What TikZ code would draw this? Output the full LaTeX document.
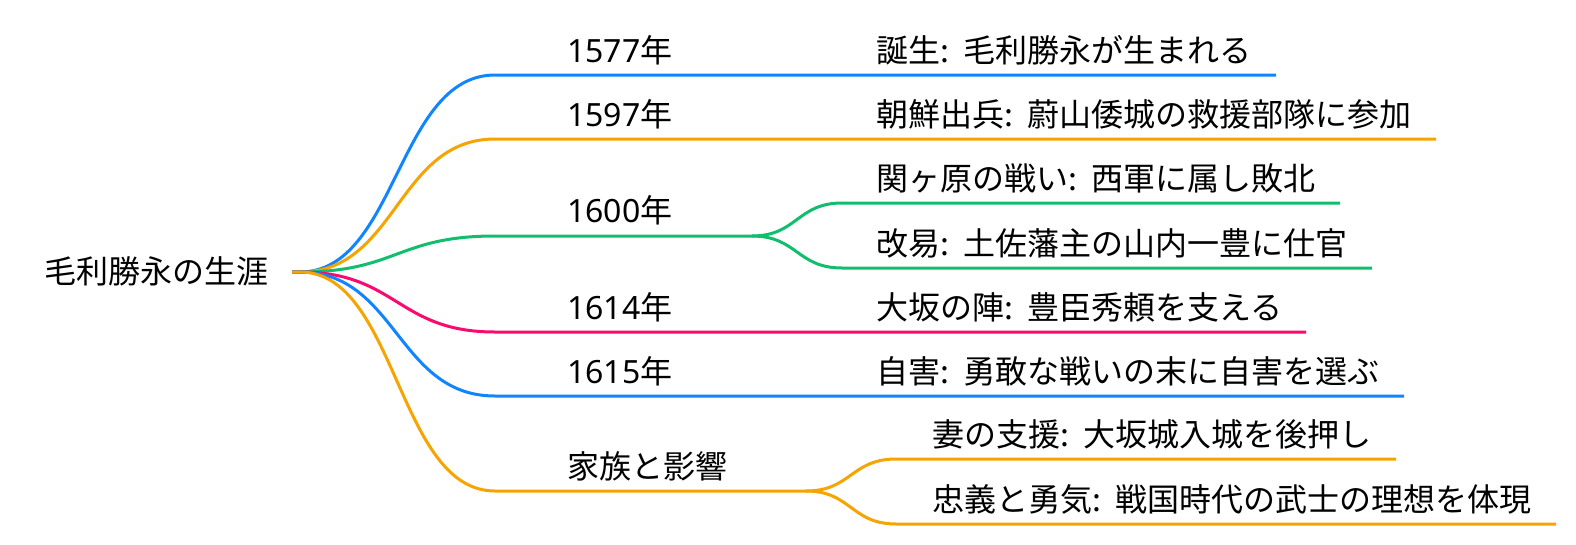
\documentclass[tikz,border=0pt]{standalone}
\usepackage{fontspec}
\setmainfont{Noto Sans CJK JP}
\newfontfamily\latf{Noto Sans}
\newcommand{\csep}{:\kern0.45em}
\newcommand{\yr}[1]{{\latf #1}年}
\definecolor{mblue}{RGB}{17,133,255}
\definecolor{morange}{RGB}{245,164,0}
\definecolor{mgreen}{RGB}{16,190,110}
\definecolor{mpink}{RGB}{250,10,110}
\begin{document}
\begin{tikzpicture}[x=1pt,y=-1pt,
  txt/.style={inner sep=0pt, anchor=base west, font=\fontsize{32}{38}\selectfont, text=black},
  link/.style={line width=3pt}]
\fill[white] (0,0) rectangle (1576,544);
% text nodes
\node[txt] (root) at (44,283) {毛利勝永の生涯};
\node[txt] (y1) at (567,62) {\yr{1577}};
\node[txt] (y2) at (567,126) {\yr{1597}};
\node[txt] (y3) at (567,222) {\yr{1600}};
\node[txt] (y4) at (567,319) {\yr{1614}};
\node[txt] (y5) at (567,383) {\yr{1615}};
\node[txt] (y6) at (567,478) {家族と影響};
\node[txt] (c1) at (876,62) {誕生\csep 毛利勝永が生まれる};
\node[txt] (c2) at (876,126) {朝鮮出兵\csep 蔚山倭城の救援部隊に参加};
\node[txt] (c3a) at (876,190) {関ヶ原の戦い\csep 西軍に属し敗北};
\node[txt] (c3b) at (876,255) {改易\csep 土佐藩主の山内一豊に仕官};
\node[txt] (c4) at (876,319) {大坂の陣\csep 豊臣秀頼を支える};
\node[txt] (c5) at (876,383) {自害\csep 勇敢な戦いの末に自害を選ぶ};
\node[txt] (c6a) at (932,446) {妻の支援\csep 大坂城入城を後押し};
\node[txt] (c6b) at (932,511) {忠義と勇気\csep 戦国時代の武士の理想を体現};
% coordinates
\coordinate (r) at (292,272);
\coordinate (r2) at (300,272);
\coordinate (mx) at (397,0);
\coordinate (mx3) at (797,0);
\coordinate (mx6) at (851,0);
\coordinate (y1L) at (495,75);
\coordinate (y2L) at (495,139);
\coordinate (y3L) at (495,236);
\coordinate (y4L) at (495,332);
\coordinate (y5L) at (495,396);
\coordinate (y6L) at (495,491);
\coordinate (y3R) at (752,236);
\coordinate (y6R) at (806,491);
\coordinate (c1R) at (1276,75);
\coordinate (c2R) at (1436,139);
\coordinate (c3aL) at (842,203);
\coordinate (c3aR) at (1340,203);
\coordinate (c3bL) at (842,268);
\coordinate (c3bR) at (1372,268);
\coordinate (c4R) at (1306,332);
\coordinate (c5R) at (1404,396);
\coordinate (c6aL) at (896,459);
\coordinate (c6aR) at (1396,459);
\coordinate (c6bL) at (896,524);
\coordinate (c6bR) at (1556,524);
% connectors
\draw[link,mblue] (r) -- (r2) .. controls (mx |- r2) and (mx |- y1L) .. (y1L) -- (c1R);
\draw[link,morange] (r) -- (r2) .. controls (mx |- r2) and (mx |- y2L) .. (y2L) -- (c2R);
\draw[link,mgreen] (r) -- (r2) .. controls (mx |- r2) and (mx |- y3L) .. (y3L) -- (y3R);
\draw[link,mgreen] (y3R) .. controls (mx3 |- y3R) and (mx3 |- c3aL) .. (c3aL) -- (c3aR);
\draw[link,mgreen] (y3R) .. controls (mx3 |- y3R) and (mx3 |- c3bL) .. (c3bL) -- (c3bR);
\draw[link,mpink] (r) -- (r2) .. controls (mx |- r2) and (mx |- y4L) .. (y4L) -- (c4R);
\draw[link,mblue] (r) -- (r2) .. controls (mx |- r2) and (mx |- y5L) .. (y5L) -- (c5R);
\draw[link,morange] (r) -- (r2) .. controls (mx |- r2) and (mx |- y6L) .. (y6L) -- (y6R);
\draw[link,morange] (y6R) .. controls (mx6 |- y6R) and (mx6 |- c6aL) .. (c6aL) -- (c6aR);
\draw[link,morange] (y6R) .. controls (mx6 |- y6R) and (mx6 |- c6bL) .. (c6bL) -- (c6bR);
\end{tikzpicture}
\end{document}
